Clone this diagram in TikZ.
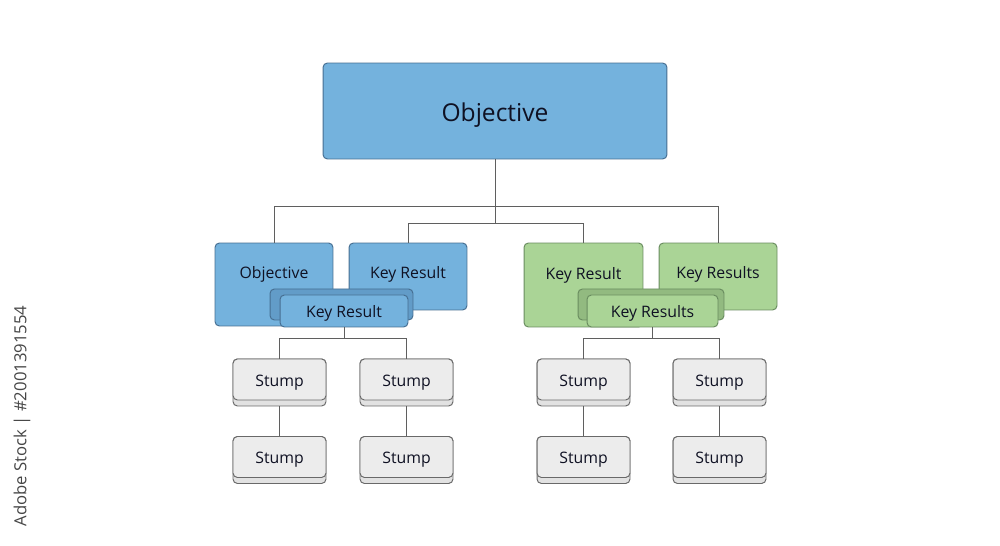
\documentclass[tikz,border=0pt]{standalone}
\usepackage{fontspec}
\setmainfont{Open Sans}
\usepackage{tikz}
\definecolor{line_gray}{RGB}{95,95,95}
\definecolor{text_dark}{RGB}{15,17,35}
\definecolor{node_blue}{RGB}{116,178,221}
\definecolor{shade_blue}{RGB}{98,156,200}
\definecolor{edge_blue}{RGB}{70,110,145}
\definecolor{node_green}{RGB}{170,212,150}
\definecolor{shade_green}{RGB}{146,186,128}
\definecolor{edge_green}{RGB}{105,140,95}
\definecolor{node_stump}{RGB}{236,236,236}
\definecolor{lip_stump}{RGB}{226,226,226}
\definecolor{edge_stump}{RGB}{105,105,105}
\definecolor{mark_gray}{RGB}{70,70,70}

\begin{document}
\begin{tikzpicture}[x=0.02cm,y=-0.02cm,line width=0.55pt]
    \tikzstyle{box}=[rectangle, rounded corners=2.5pt, inner sep=0pt, text=text_dark, text height=1.6ex, text depth=0.2ex, font=\fontsize{9}{11}\selectfont]
    \tikzstyle{bl}=[style=box, fill=node_blue, draw=edge_blue]
    \tikzstyle{blsh}=[style=box, fill=shade_blue, draw=edge_blue]
    \tikzstyle{gr}=[style=box, fill=node_green, draw=edge_green]
    \tikzstyle{grsh}=[style=box, fill=shade_green, draw=edge_green]
    \tikzstyle{lip}=[style=box, fill=lip_stump, draw=edge_stump, minimum width=1.86cm, minimum height=0.94cm]
    \tikzstyle{stump}=[style=box, fill=node_stump, draw=edge_stump, minimum width=1.86cm, minimum height=0.82cm]
    \tikzstyle{tag}=[text=text_dark, text height=1.6ex, text depth=0.2ex, font=\fontsize{9}{11}\selectfont]
    \tikzstyle{conn}=[draw=line_gray, line width=0.5pt]

    \useasboundingbox (0,0) rectangle (1000,546);

    % top objective
    \node[bl, minimum width=6.88cm, minimum height=1.92cm, font=\fontsize{14}{16}\selectfont] (top) at (495,111) {\raisebox{-0.08cm}{Objective}};

    % blue group
    \node[bl, minimum width=2.36cm, minimum height=1.66cm, label={[tag,yshift=0.25cm]center:Objective}] (objA) at (274,284.5) {};
    \node[bl, minimum width=2.36cm, minimum height=1.34cm] (krA) at (408,276.5) {\raisebox{0.09cm}{Key Result}};
    \node[blsh, minimum width=2.86cm, minimum height=0.62cm] (shA) at (341.5,304.5) {};
    \node[bl, minimum width=2.56cm, minimum height=0.64cm] (frA) at (344,311) {Key Result};

    % green group
    \node[gr, minimum width=2.38cm, minimum height=1.68cm, label={[tag,yshift=0.25cm]center:Key Result}] (objB) at (583.5,285) {};
    \node[gr, minimum width=2.36cm, minimum height=1.34cm] (krB) at (718,276.5) {\raisebox{0.09cm}{Key Results}};
    \node[grsh, minimum width=2.92cm, minimum height=0.62cm] (shB) at (651,304.5) {};
    \node[gr, minimum width=2.62cm, minimum height=0.64cm] (frB) at (652.5,311) {Key Results};

    % stumps
    \foreach \n/\x in {1/279.5,2/406.5,3/583.5,4/719.5} {
      \node[lip] (l1\n) at (\x,382.5) {};
      \node[stump] (s1\n) at (\x,379.5) {Stump};
      \node[lip] (l2\n) at (\x,460) {};
      \node[stump] (s2\n) at (\x,457) {Stump};
      \draw[conn] (l1\n.south) -- (s2\n.north);
    }

    % connectors
    \coordinate (busT) at (495,206);
    \coordinate (busM) at (495,223);
    \coordinate (busA) at (344,338);
    \coordinate (busB) at (652.5,338);
    \draw[conn] (top.south) -- (busM);
    \draw[conn] (busT) -| (objA.north);
    \draw[conn] (busT) -| (krB.north);
    \draw[conn] (busM) -| (krA.north);
    \draw[conn] (busM) -| (objB.north);
    \draw[conn] (frA.south) -- (busA);
    \draw[conn] (busA) -| (s11.north);
    \draw[conn] (busA) -| (s12.north);
    \draw[conn] (frB.south) -- (busB);
    \draw[conn] (busB) -| (s13.north);
    \draw[conn] (busB) -| (s14.north);

    \node[rotate=90, text=mark_gray, font=\fontsize{9.5}{11}\selectfont, anchor=center] (mark) at (22,416) {Adobe Stock | \#2001391554};
\end{tikzpicture}
\end{document}
